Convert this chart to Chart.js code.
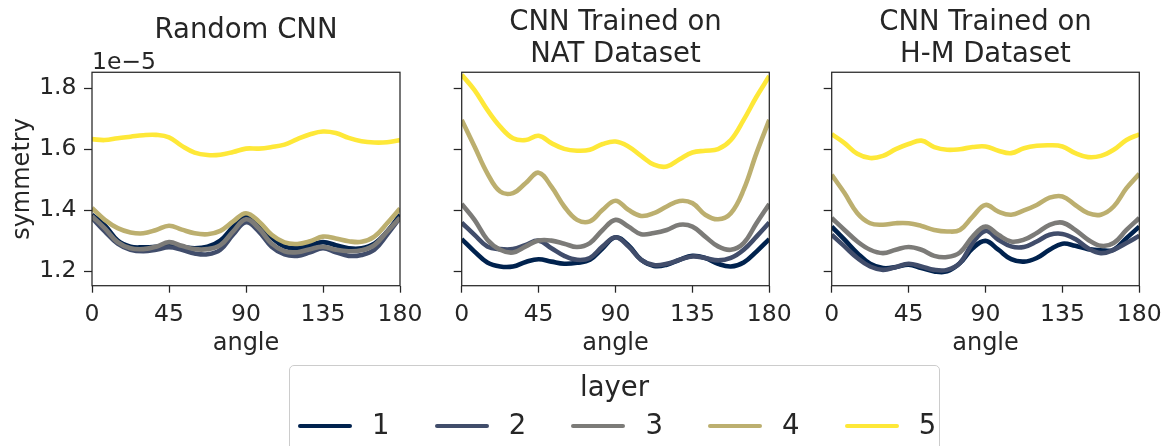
<!DOCTYPE html>
<html>
<head>
<meta charset="utf-8">
<script src="https://cdn.jsdelivr.net/npm/chart.js@4.4.1/dist/chart.umd.min.js"></script>
<style>
  html, body { margin: 0; padding: 0; background: #fff; overflow: hidden; }
  #wrap { position: relative; width: 1173px; height: 446px; overflow: hidden; font-family: "DejaVu Sans", sans-serif; color: #262626; }
  #wrap canvas { position: absolute; left: 0; top: 0; }
  .lg { position: absolute; white-space: nowrap; font-size: 27.5px; line-height: 27.5px; }
</style>
</head>
<body>
<div id="wrap">
  <canvas id="panelRandom" width="1173" height="446"></canvas>
  <canvas id="panelNat" width="1173" height="446"></canvas>
  <canvas id="panelHm" width="1173" height="446"></canvas>
</div>
<script>
// x positions (degrees) and tick labels
const angles = [0, 7.5, 15, 22.5, 30, 37.5, 45, 52.5, 60, 67.5, 75, 82.5, 90,
                97.5, 105, 112.5, 120, 127.5, 135, 142.5, 150, 157.5, 165, 172.5, 180];
const xTicks = [0, 45, 90, 135, 180];
const yTicks = [1.2, 1.4, 1.6, 1.8];
const layers = ['1', '2', '3', '4', '5'];
const layerColors = ['#00224e', '#414d6b', '#7c7b78', '#bcaf6f', '#fee838'];

// symmetry values (x 1e-5)
// Random CNN
const rnd1 = [1.385,1.350,1.300,1.280,1.278,1.280,1.285,1.280,1.275,1.280,1.300,1.345,1.380,1.350,1.310,1.280,1.275,1.285,1.295,1.285,1.275,1.275,1.290,1.330,1.385];
const rnd2 = [1.375,1.330,1.290,1.270,1.265,1.270,1.278,1.270,1.258,1.255,1.270,1.320,1.360,1.330,1.280,1.255,1.250,1.262,1.275,1.262,1.250,1.253,1.270,1.320,1.375];
const rnd3 = [1.380,1.340,1.295,1.275,1.272,1.280,1.295,1.283,1.272,1.272,1.285,1.330,1.370,1.340,1.290,1.265,1.262,1.272,1.280,1.270,1.265,1.268,1.285,1.330,1.375];
const rnd4 = [1.407,1.368,1.341,1.327,1.324,1.335,1.349,1.336,1.324,1.321,1.332,1.363,1.390,1.363,1.319,1.294,1.289,1.298,1.313,1.307,1.298,1.296,1.313,1.357,1.405];
const rnd5 = [1.633,1.630,1.636,1.641,1.646,1.647,1.639,1.611,1.589,1.581,1.582,1.591,1.602,1.602,1.607,1.615,1.633,1.649,1.658,1.653,1.637,1.626,1.622,1.623,1.630];
// CNN trained on NAT
const nat1 = [1.305,1.264,1.228,1.215,1.215,1.230,1.239,1.231,1.224,1.227,1.237,1.275,1.311,1.285,1.237,1.217,1.221,1.237,1.250,1.243,1.224,1.215,1.228,1.264,1.305];
const nat2 = [1.359,1.319,1.281,1.272,1.272,1.286,1.300,1.275,1.250,1.237,1.243,1.281,1.311,1.281,1.237,1.220,1.224,1.237,1.248,1.243,1.235,1.243,1.270,1.313,1.359];
const nat3 = [1.420,1.368,1.303,1.270,1.261,1.281,1.300,1.300,1.290,1.279,1.292,1.335,1.368,1.346,1.321,1.325,1.335,1.352,1.346,1.313,1.281,1.270,1.292,1.357,1.420];
const nat4 = [1.696,1.609,1.521,1.461,1.456,1.489,1.523,1.477,1.412,1.368,1.363,1.401,1.431,1.401,1.381,1.390,1.412,1.430,1.423,1.385,1.370,1.390,1.467,1.587,1.696];
const nat5 = [1.844,1.794,1.729,1.674,1.636,1.630,1.644,1.620,1.601,1.595,1.598,1.617,1.625,1.609,1.578,1.549,1.543,1.567,1.589,1.595,1.600,1.630,1.696,1.772,1.840];
// CNN trained on H-M
const hm1 = [1.346,1.303,1.259,1.224,1.210,1.213,1.221,1.210,1.199,1.199,1.226,1.275,1.299,1.270,1.239,1.231,1.243,1.270,1.290,1.283,1.272,1.268,1.270,1.308,1.346];
const hm2 = [1.319,1.281,1.243,1.215,1.204,1.213,1.224,1.215,1.204,1.204,1.226,1.292,1.332,1.303,1.281,1.279,1.297,1.319,1.322,1.305,1.275,1.259,1.270,1.292,1.316];
const hm3 = [1.374,1.335,1.297,1.270,1.259,1.270,1.279,1.270,1.250,1.246,1.261,1.313,1.346,1.319,1.297,1.303,1.325,1.352,1.359,1.335,1.303,1.283,1.292,1.335,1.374];
const hm4 = [1.516,1.456,1.390,1.357,1.352,1.357,1.357,1.348,1.335,1.330,1.335,1.379,1.417,1.395,1.385,1.399,1.417,1.441,1.445,1.417,1.390,1.385,1.412,1.472,1.519];
const hm5 = [1.649,1.620,1.585,1.571,1.578,1.600,1.617,1.628,1.607,1.598,1.600,1.607,1.609,1.595,1.587,1.603,1.611,1.613,1.609,1.587,1.574,1.578,1.598,1.630,1.649];

const ink = '#262626';
const font = '"DejaVu Sans", sans-serif';
const W = 1173, H = 446;
const plotTop = 72.3, plotBottom = 285.7;
const xAxisH = 80;

// draws the axes frame (all four sides) and the 1e-5 offset text
const framePlugin = {
    id: 'frame',
    afterDatasetsDraw(chart, args, opts) {
        const {ctx, chartArea: a} = chart;
        ctx.save();
        ctx.strokeStyle = ink;
        ctx.lineWidth = 1.25;
        ctx.strokeRect(a.left, a.top, a.right - a.left, a.bottom - a.top);
        if (opts.offsetText) {
            ctx.font = '23.5px ' + font;
            ctx.fillStyle = ink;
            ctx.textAlign = 'left';
            ctx.textBaseline = 'alphabetic';
            ctx.fillText(opts.offsetText, a.left, a.top - 3);
        }
        ctx.restore();
    }
};

function makePanel(id, title, series, plotLeft, plotRight, first) {
    const yAxisW = first ? 90 : 20;
    const titlePad = first ? {top: 15, bottom: 25.1} : {top: 6.8, bottom: 1.1};

    const datasets = series.map((vals, i) => ({
        label: layers[i],
        data: vals.map((v, j) => ({x: angles[j], y: v})),
        borderColor: layerColors[i],
        borderWidth: 4.6,
        pointRadius: 0,
        tension: 0.4,
        order: series.length - i, // layer 5 on top
    }));

    return new Chart(id, {
        type: 'line',
        data: {datasets},
        plugins: [framePlugin],
        options: {
            responsive: false,
            animation: false,
            events: [],
            layout: {
                padding: {
                    left: plotLeft - yAxisW,
                    right: W - plotRight,
                    top: 0,
                    bottom: H - plotBottom - xAxisH,
                }
            },
            scales: {
                x: {
                    type: 'linear',
                    min: 0,
                    max: 180,
                    afterBuildTicks: (scale) => { scale.ticks = xTicks.map(v => ({value: v})); },
                    afterFit: (scale) => { scale.height = xAxisH; },
                    border: {display: false},
                    grid: {drawOnChartArea: false, drawTicks: true, tickLength: 7, tickColor: ink, tickWidth: 1.25},
                    ticks: {
                        autoSkip: false,
                        maxRotation: 0,
                        padding: 8,
                        color: ink,
                        font: {family: font, size: 23.5},
                        callback: (v) => String(v),
                    },
                    title: {
                        display: true,
                        text: 'angle',
                        color: ink,
                        font: {family: font, size: 24},
                        padding: {top: 0, bottom: 7.5},
                    }
                },
                y: {
                    min: 1.152,
                    max: 1.8525,
                    afterBuildTicks: (scale) => { scale.ticks = yTicks.map(v => ({value: v})); },
                    afterFit: (scale) => { scale.width = yAxisW; },
                    border: {display: false},
                    grid: {drawOnChartArea: false, drawTicks: true, tickLength: 8, tickColor: ink, tickWidth: 1.25},
                    ticks: {
                        padding: 7.5,
                        color: ink,
                        font: {family: font, size: 23.5},
                        callback: (v) => first ? v.toFixed(1) : '',
                    },
                    title: {
                        display: first,
                        text: 'symmetry',
                        color: ink,
                        font: {family: font, size: 24},
                        padding: {top: 6.5, bottom: 0},
                    }
                }
            },
            plugins: {
                legend: {display: false},
                tooltip: {enabled: false},
                title: {
                    display: true,
                    fullSize: false, // centre over the plot area only
                    text: title,
                    color: ink,
                    font: {family: font, size: 27.5, weight: 'normal', lineHeight: 1.17},
                    padding: titlePad,
                },
                frame: {offsetText: first ? '1e\u22125' : ''},
            }
        }
    });
}

makePanel('panelRandom', 'Random CNN', [rnd1, rnd2, rnd3, rnd4, rnd5], 92, 400, true);
makePanel('panelNat', ['CNN Trained on', 'NAT Dataset'], [nat1, nat2, nat3, nat4, nat5], 461.7, 769.3, false);
makePanel('panelHm', ['CNN Trained on', 'H-M Dataset'], [hm1, hm2, hm3, hm4, hm5], 831.7, 1139.3, false);

// shared legend below the panels
const wrap = document.getElementById('wrap');
function addDiv(css, text) {
    const d = document.createElement('div');
    d.style.cssText = css;
    if (text !== undefined) { d.className = 'lg'; d.textContent = text; }
    wrap.appendChild(d);
    return d;
}
addDiv('position:absolute;left:289px;top:364.5px;width:651px;height:120px;border:1px solid #cccccc;border-radius:5px;box-sizing:border-box;background:rgba(255,255,255,0.8);');
addDiv('left:289px;width:651px;text-align:center;top:372.7px;', 'layer');
layers.forEach((name, i) => {
    const x0 = 298 + 136.7 * i;
    addDiv(`position:absolute;left:${x0}px;top:423.5px;width:54px;height:4.5px;border-radius:2.25px;background:${layerColors[i]};`);
    addDiv(`left:${x0 + 74}px;top:410.7px;`, name);
});
</script>
</body>
</html>
